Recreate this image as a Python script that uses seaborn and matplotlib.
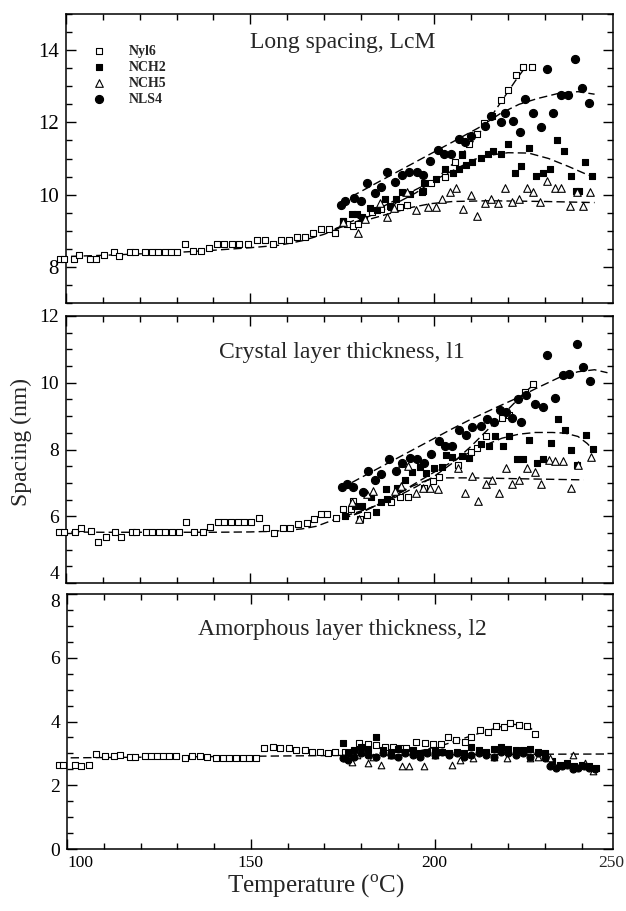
import matplotlib
matplotlib.use("Agg")
import matplotlib.pyplot as plt
import seaborn as sns
import pandas as pd
from matplotlib.ticker import MultipleLocator

# ---------------- data (T in degC, spacing in nm) ----------------
# Panel 1 : Long spacing, LcM
L_nyl6 = [(98.5, 8.21), (99.5, 8.21), (102.1, 8.21), (103.6, 8.32), (106.4, 8.21), (108.2, 8.21),
          (110.3, 8.32), (113.0, 8.41), (114.5, 8.30), (117.3, 8.41), (118.7, 8.41), (121.5, 8.41),
          (123.3, 8.41), (125.0, 8.41), (126.9, 8.41), (128.5, 8.41), (130.0, 8.41), (132.4, 8.63),
          (134.5, 8.44), (136.6, 8.44), (138.9, 8.53), (141.0, 8.63), (143.0, 8.63), (145.1, 8.63),
          (147.1, 8.63), (149.4, 8.63), (151.8, 8.75), (153.9, 8.75), (156.2, 8.64), (158.5, 8.75),
          (160.5, 8.75), (162.7, 8.84), (164.8, 8.84), (167.1, 8.95), (169.1, 9.04), (171.3, 9.04),
          (173.1, 8.95), (175.1, 9.27), (176.4, 9.18), (177.8, 9.13), (179.4, 9.18), (181.0, 9.32),
          (183.0, 9.52), (185.6, 9.60), (188.3, 9.67), (190.6, 9.67), (192.5, 9.71), (196.9, 10.10),
          (199.1, 10.33), (203.0, 10.50), (205.5, 10.89), (207.4, 11.12), (209.4, 11.39), (211.7, 11.67),
          (213.6, 11.99), (215.7, 12.18), (218.0, 12.62), (220.0, 12.90), (222.2, 13.30), (224.2, 13.52),
          (226.5, 13.52)]
L_nch2 = [(175.1, 9.27), (177.6, 9.46), (178.9, 9.46), (180.3, 9.37), (182.5, 9.64), (184.3, 9.58),
          (186.5, 9.87), (187.9, 9.69), (189.7, 9.87), (191.3, 10.07), (193.3, 10.01), (196.7, 10.07),
          (197.3, 10.33), (200.5, 10.43), (203.0, 10.70), (205.0, 10.61), (206.7, 10.70), (207.5, 11.09),
          (208.5, 10.81), (210.3, 10.90), (212.6, 11.02), (214.5, 11.12), (216.0, 11.20), (218.1, 11.12),
          (220.0, 11.40), (222.0, 10.61), (223.6, 10.79), (225.7, 11.30), (227.5, 10.52), (229.5, 10.61),
          (231.3, 10.72), (233.2, 11.51), (235.2, 11.21), (237.1, 10.52), (238.4, 10.10), (239.2, 10.10),
          (240.8, 10.90), (242.7, 10.52)]
L_nch5 = [(175.3, 9.25), (179.4, 8.95), (181.2, 9.32), (185.2, 9.76), (187.2, 9.37), (189.0, 9.64),
          (192.5, 10.07), (194.9, 9.58), (198.2, 9.67), (200.5, 9.67), (202.2, 9.87), (204.2, 10.07),
          (206.0, 10.19), (207.8, 9.60), (209.9, 10.00), (211.6, 9.40), (213.7, 9.78), (215.5, 9.89),
          (217.3, 9.78), (219.3, 10.19), (221.1, 9.79), (223.1, 9.89), (225.1, 10.19), (226.9, 10.08),
          (228.7, 9.79), (230.6, 10.39), (232.7, 10.19), (234.5, 10.19), (236.8, 9.69), (238.6, 10.07),
          (240.3, 9.69), (242.2, 10.08)]
L_nls4 = [(174.6, 9.71), (175.8, 9.83), (178.2, 9.92), (180.0, 9.83), (181.6, 10.33), (183.8, 10.04),
          (185.6, 10.22), (187.2, 10.63), (189.3, 10.35), (191.3, 10.54), (193.1, 10.63), (195.2, 10.63),
          (197.0, 10.53), (198.7, 10.93), (200.9, 11.24), (202.6, 11.12), (204.5, 11.12), (206.6, 11.53),
          (208.3, 11.45), (209.9, 11.63), (213.7, 11.90), (215.5, 12.18), (218.0, 12.01), (219.3, 12.25),
          (221.3, 12.04), (223.3, 11.73), (224.7, 12.66), (226.9, 12.25), (229.0, 11.86), (230.5, 13.47),
          (232.3, 12.25), (234.5, 12.75), (236.2, 12.75), (238.2, 13.76), (240.1, 12.96), (241.9, 12.55)]
L_fit_nyl6 = [(98, 8.28), (110, 8.32), (120, 8.36), (130, 8.40), (140, 8.46), (150, 8.53), (158, 8.60),
              (164, 8.72), (170, 8.90), (175, 9.10), (180, 9.30), (185, 9.52), (190, 9.78), (195, 10.05),
              (200, 10.40), (205, 10.85), (210, 11.40), (214, 11.95), (218, 12.55), (222, 13.15), (224.5, 13.50)]
L_fit_nls4 = [(174.5, 9.78), (185, 10.36), (195, 10.91), (205, 11.46), (212, 11.85), (218, 12.25),
              (223, 12.50), (228, 12.66), (234, 12.81), (239, 12.85), (243.5, 12.78)]
L_fit_nch2 = [(173, 9.05), (180, 9.37), (187, 9.72), (194, 10.09), (200, 10.40), (206, 10.72), (211, 10.98),
              (215, 11.09), (220, 11.16), (225.6, 11.15), (231, 11.00), (236.4, 10.78), (241.8, 10.54),
              (243.2, 10.50)]
L_fit_nch5 = [(173, 9.05), (180, 9.25), (188, 9.48), (194, 9.65), (199, 9.75), (205, 9.81), (215, 9.83),
              (230, 9.81), (243.5, 9.78)]

# Panel 2 : Crystal layer thickness, l1
C_nyl6 = [(98.2, 5.53), (99.4, 5.53), (102.4, 5.53), (104.0, 5.65), (106.9, 5.55), (108.6, 5.22),
          (110.9, 5.38), (113.3, 5.52), (114.8, 5.38), (118.0, 5.53), (119.1, 5.53), (121.6, 5.53),
          (123.4, 5.53), (125.2, 5.53), (127.0, 5.53), (128.8, 5.53), (130.7, 5.53), (132.5, 5.82),
          (134.8, 5.53), (137.1, 5.53), (139.1, 5.67), (141.2, 5.82), (143.0, 5.82), (144.8, 5.82),
          (146.6, 5.82), (148.4, 5.82), (150.3, 5.82), (152.4, 5.95), (154.4, 5.65), (156.6, 5.50),
          (158.9, 5.65), (160.9, 5.65), (163.0, 5.78), (165.3, 5.79), (167.3, 5.93), (169.2, 6.06),
          (170.8, 6.06), (173.3, 5.94), (175.3, 6.21), (177.3, 6.21), (178.0, 6.47), (179.8, 5.91),
          (181.6, 6.04), (188.3, 6.44), (190.6, 6.57), (192.8, 6.57), (197.3, 6.84), (199.5, 7.07),
          (201.3, 7.19), (206.3, 7.54), (209.9, 7.94), (211.7, 8.04), (213.9, 8.41), (218.3, 8.93),
          (220.4, 9.02), (224.7, 9.73), (226.7, 9.96)]
C_nch2 = [(175.8, 6.01), (178.5, 6.31), (180.3, 6.31), (182.9, 6.57), (184.1, 6.14), (185.6, 6.44),
          (186.8, 6.81), (187.2, 6.51), (189.8, 6.84), (191.9, 7.09), (194.0, 7.34), (196.0, 7.49),
          (197.6, 7.31), (200.0, 7.44), (202.1, 7.49), (203.1, 7.84), (204.9, 7.77), (207.5, 7.81),
          (209.4, 7.74), (212.8, 8.17), (214.8, 8.09), (216.4, 8.41), (218.6, 8.09), (220.2, 8.41),
          (222.4, 7.71), (224.0, 7.71), (225.6, 8.29), (227.8, 7.59), (229.6, 7.71), (231.7, 8.20),
          (233.6, 8.91), (235.5, 8.59), (237.1, 7.99), (238.6, 7.54), (241.3, 8.44), (243.1, 8.01)]
C_nch5 = [(177.6, 6.44), (179.6, 5.91), (181.6, 6.67), (183.4, 6.76), (189.2, 6.76), (191.0, 6.91),
          (191.3, 7.59), (192.8, 7.51), (194.9, 6.69), (197.0, 6.84), (198.8, 6.84), (200.9, 6.81),
          (206.5, 7.44), (208.3, 6.71), (210.2, 7.21), (211.9, 6.47), (214.1, 6.97), (215.7, 7.09),
          (217.5, 6.71), (219.5, 7.44), (221.1, 6.97), (222.9, 7.09), (225.1, 7.44), (227.2, 7.34),
          (229.0, 6.97), (231.1, 7.69), (232.8, 7.67), (235.0, 7.66), (237.1, 6.84), (238.9, 7.54),
          (242.6, 7.79)]
C_nls4 = [(174.9, 6.87), (176.2, 6.97), (178.0, 6.87), (180.5, 6.74), (182.0, 7.37), (183.8, 7.09),
          (185.6, 7.27), (187.7, 7.71), (189.7, 7.37), (191.3, 7.59), (193.3, 7.74), (195.2, 7.71),
          (197.3, 7.61), (199.1, 7.87), (201.2, 8.24), (203.0, 8.09), (204.8, 8.11), (206.7, 8.57),
          (208.5, 8.44), (210.2, 8.67), (212.6, 8.69), (214.3, 8.91), (216.2, 8.81), (217.8, 9.19),
          (219.5, 9.13), (221.1, 8.94), (223.4, 8.81), (222.7, 9.50), (224.9, 9.63), (227.4, 9.37),
          (229.4, 9.28), (230.5, 10.83), (232.8, 9.54), (235.0, 10.23), (236.5, 10.26), (238.6, 11.15),
          (240.4, 10.48), (242.2, 10.05)]
C_fit_nyl6 = [(98, 5.53), (110, 5.52), (120, 5.52), (130, 5.52), (140, 5.52), (150, 5.53), (156, 5.55),
              (160, 5.58), (164, 5.62), (168, 5.70), (172.6, 5.89), (177, 6.05), (181.6, 6.21), (186, 6.40),
              (190, 6.60), (195, 6.88), (200, 7.20), (205, 7.60), (210, 8.10), (215, 8.65), (220, 9.20),
              (224, 9.65), (227, 9.95)]
C_fit_nls4 = [(177.6, 7.01), (185, 7.45), (195, 8.04), (205, 8.63), (210, 8.91), (216, 9.22), (222.4, 9.54),
              (228, 9.85), (234.5, 10.19), (239, 10.33), (243.5, 10.39), (247, 10.30)]
C_fit_nch2 = [(175, 5.92), (180.7, 6.14), (185, 6.36), (189.7, 6.64), (194, 6.93), (198.7, 7.24),
              (203, 7.52), (207.6, 7.80), (212, 8.05), (218.4, 8.34), (223, 8.46), (227.4, 8.51),
              (232, 8.51), (235.5, 8.49), (239, 8.39), (241.5, 8.18), (243.3, 7.97)]
C_fit_nch5 = [(175, 5.92), (181, 6.17), (186, 6.42), (190, 6.66), (194, 6.90), (198, 7.08), (202, 7.15),
              (210, 7.15), (225, 7.12), (240.5, 7.09)]

# Panel 3 : Amorphous layer thickness, l2
A_nyl6 = [(97.7, 2.63), (98.8, 2.63), (102.1, 2.63), (103.7, 2.60), (106.1, 2.63), (107.9, 2.98),
          (110.3, 2.93), (112.7, 2.93), (114.3, 2.96), (117.0, 2.90), (118.5, 2.90), (121.2, 2.92),
          (122.8, 2.92), (124.5, 2.92), (126.1, 2.92), (127.7, 2.92), (129.6, 2.92), (132.1, 2.87),
          (133.9, 2.93), (136.1, 2.93), (138.2, 2.88), (140.5, 2.86), (142.3, 2.86), (144.1, 2.86),
          (146.1, 2.86), (147.9, 2.86), (149.6, 2.86), (151.5, 2.84), (153.6, 3.16), (155.9, 3.21),
          (157.9, 3.16), (160.3, 3.16), (162.3, 3.12), (164.6, 3.12), (166.7, 3.05), (168.8, 3.03),
          (170.9, 3.02), (173.0, 3.05), (175.5, 3.05), (177.5, 3.03), (179.5, 3.31), (181.8, 3.29),
          (184.1, 3.26), (186.4, 3.20), (188.6, 3.20), (190.5, 3.16), (192.3, 3.16), (195.0, 3.36),
          (197.3, 3.33), (199.5, 3.28), (201.6, 3.28), (203.6, 3.52), (205.9, 3.42), (208.2, 3.36),
          (210.0, 3.52), (212.3, 3.73), (214.5, 3.67), (216.6, 3.85), (218.8, 3.83), (220.6, 3.96),
          (223.0, 3.89), (225.0, 3.85), (227.3, 3.62)]
A_nch2 = [(175.0, 3.31), (176.5, 3.00), (178.0, 3.10), (180.0, 3.20), (182.0, 3.15), (184.1, 3.52),
          (186.0, 3.10), (188.0, 3.05), (190.0, 3.15), (192.0, 3.05), (194.0, 3.10), (196.0, 3.00),
          (198.0, 3.05), (200.0, 3.10), (202.0, 3.05), (204.0, 3.00), (206.0, 3.05), (208.0, 3.00),
          (210.0, 3.20), (212.0, 3.10), (214.0, 3.05), (216.0, 3.15), (218.0, 3.20), (220.0, 3.15),
          (222.0, 3.10), (224.0, 3.10), (226.0, 3.15), (228.0, 3.05), (230.0, 3.00), (232.0, 2.75),
          (234.0, 2.65), (236.0, 2.70), (238.0, 2.60), (240.0, 2.65), (242.0, 2.60), (244.0, 2.55)]
A_nch5 = [(176.0, 2.85), (177.4, 2.74), (179.0, 2.95), (181.8, 2.70), (183.2, 2.89), (185.5, 2.63),
          (188.0, 2.95), (191.2, 2.60), (193.1, 2.60), (197.2, 2.59), (200.0, 2.95), (204.8, 2.62),
          (206.8, 2.80), (210.4, 2.84), (216.0, 2.90), (219.8, 2.84), (225.8, 2.84), (228.0, 2.90),
          (231.4, 2.84), (237.6, 2.95), (240.9, 2.71), (243.1, 2.45)]
A_nls4 = [(175.0, 2.85), (176.5, 2.80), (178.0, 2.90), (180.0, 3.00), (182.0, 2.95), (184.0, 2.90),
          (186.0, 3.00), (188.0, 2.95), (190.0, 2.90), (192.0, 3.00), (194.0, 2.95), (196.0, 2.90),
          (198.0, 3.00), (200.0, 2.95), (202.0, 3.05), (204.0, 2.95), (206.0, 3.00), (208.0, 2.90),
          (210.0, 2.95), (212.0, 3.00), (214.0, 2.95), (216.0, 2.90), (218.0, 3.05), (220.0, 3.00),
          (222.0, 2.95), (224.0, 3.00), (226.0, 2.90), (228.0, 3.00), (230.0, 2.85), (231.5, 2.60),
          (233.0, 2.55), (234.5, 2.60), (236.0, 2.65), (237.5, 2.50), (239.0, 2.55), (240.5, 2.60),
          (242.0, 2.55), (243.5, 2.50)]
A_fit_flat = [(101, 2.86), (130, 2.89), (160, 2.92), (190, 2.95), (220, 2.97), (247, 2.98)]
A_fit_nyl6 = [(195, 3.05), (202.3, 3.26), (206, 3.40), (210.5, 3.57), (214, 3.70), (217.7, 3.83),
              (221.4, 3.91), (224, 3.89), (226, 3.80), (227.7, 3.63)]

samples = ["Nyl6", "NCH2", "NCH5", "NLS4"]
marker_of = {"Nyl6": "s", "NCH2": "s", "NCH5": "^", "NLS4": "o"}
face_of = {"Nyl6": "white", "NCH2": "black", "NCH5": "white", "NLS4": "black"}

panels = [
    dict(title="Long spacing, LcM", ylim=(7, 15), major=2, data=[L_nyl6, L_nch2, L_nch5, L_nls4],
         fits=[L_fit_nyl6, L_fit_nls4, L_fit_nch2, L_fit_nch5], ty=0.90, tsize=15, ms=1.0),
    dict(title="Crystal layer thickness, l1", ylim=(4, 12), major=2, data=[C_nyl6, C_nch2, C_nch5, C_nls4],
         fits=[C_fit_nyl6, C_fit_nls4, C_fit_nch2, C_fit_nch5], ty=0.865, tsize=14, ms=1.0),
    dict(title="Amorphous layer thickness, l2", ylim=(0, 8), major=2, data=[A_nyl6, A_nch2, A_nch5, A_nls4],
         fits=[A_fit_flat, A_fit_nyl6], ty=0.86, tsize=14, ms=0.75),
]

# ---------------- style ----------------
sns.set_theme(style="ticks")
plt.rcParams["font.family"] = ["Liberation Serif", "DejaVu Serif"]
plt.rcParams["mathtext.fontset"] = "custom"
plt.rcParams["mathtext.rm"] = "Liberation Serif"

fig = plt.figure(figsize=(6.26, 9.11), dpi=100)
W, H = 626, 911
boxes = [(66, 14, 613, 303), (66, 316, 613, 583), (67, 594, 613, 849)]
axes = []
for (l, t, r, b) in boxes:
    axes.append(fig.add_axes([l / W, 1 - b / H, (r - l) / W, (b - t) / H]))

sizes = {"s": 24, "^": 30, "o": 34}
for ax, p in zip(axes, panels):
    for fit in p["fits"]:
        fd = pd.DataFrame(fit, columns=["T", "v"])
        sns.lineplot(data=fd, x="T", y="v", ax=ax, color="black", lw=1.0,
                     linestyle=(0, (6, 3)), sort=False, estimator=None, zorder=2)
    for name, d in zip(samples, p["data"]):
        dd = pd.DataFrame(d, columns=["T", "v"])
        m = marker_of[name]
        sns.scatterplot(data=dd, x="T", y="v", ax=ax, marker=m, s=sizes[m] * p["ms"],
                        facecolor=face_of[name], edgecolor="black", linewidth=0.8,
                        clip_on=False, zorder=3, label=name)
    ax.set_xlim(100, 248.5)
    ax.set_ylim(*p["ylim"])
    ax.xaxis.set_major_locator(MultipleLocator(50))
    ax.xaxis.set_minor_locator(MultipleLocator(10))
    ax.yaxis.set_major_locator(MultipleLocator(p["major"]))
    ax.yaxis.set_minor_locator(MultipleLocator(0.5))
    ax.tick_params(which="both", direction="in", top=True, right=True, width=1.0, colors="black")
    ax.tick_params(which="major", length=7)
    ax.tick_params(which="minor", length=4)
    ax.tick_params(axis="y", labelsize=p["tsize"], pad=5)
    ax.tick_params(axis="x", labelsize=12.5, pad=4)
    for sp in ax.spines.values():
        sp.set_linewidth(1.1)
        sp.set_color("black")
    ax.set_xlabel("")
    ax.set_ylabel("")
    ax.text(0.505, p["ty"], p["title"], transform=ax.transAxes, ha="center", va="center", fontsize=17)
    if ax.get_legend() is not None:
        ax.get_legend().remove()

for ax in axes[:2]:
    ax.tick_params(axis="x", labelbottom=False)

# label placement tweaks seen in the original: "4"/"8" pushed apart, "100" nudged right of the corner
fig.canvas.draw()
for tk in axes[1].yaxis.get_major_ticks():
    if abs(tk.get_loc() - 4) < 1e-6:
        tk.label1.set_verticalalignment("bottom")
for tk in axes[2].yaxis.get_major_ticks():
    if abs(tk.get_loc() - 8) < 1e-6:
        tk.label1.set_verticalalignment("top")
for tk in axes[2].xaxis.get_major_ticks():
    if abs(tk.get_loc() - 100) < 1e-6:
        tk.label1.set_horizontalalignment("left")

# legend only in the first panel
leg = axes[0].legend(loc="upper left", bbox_to_anchor=(0.048, 0.893), frameon=False,
                     borderpad=0, borderaxespad=0, handlelength=1.0, handletextpad=1.6,
                     labelspacing=0.22, prop={"family": "Liberation Serif", "size": 10, "weight": "bold"})

# the 250 label sits just past the right end of the axis
axes[2].annotate("250", xy=(250, 0), xycoords=("data", "axes fraction"), xytext=(-5.5, -4),
                 textcoords="offset points", ha="center", va="top", fontsize=12.5, annotation_clip=False)

fig.text(21 / W, 1 - 442 / H, "Spacing (nm)", rotation=90, ha="center", va="center", fontsize=17)
fig.text(316 / W, 1 - 893 / H, "Temperature ($^{\\rm o}$C)", ha="center", va="baseline", fontsize=18)

fig.savefig("out.png", dpi=100)
